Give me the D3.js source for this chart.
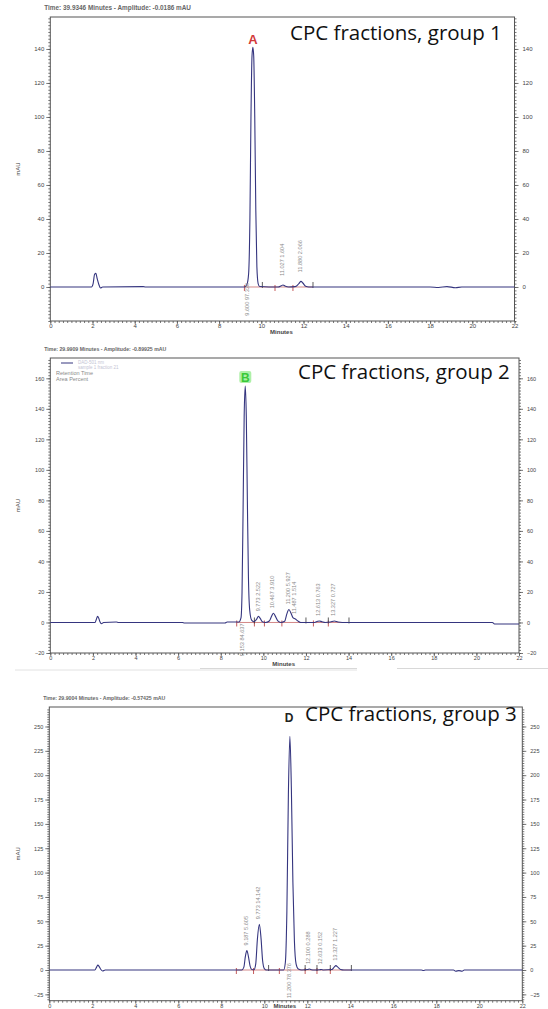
<!DOCTYPE html>
<html><head><meta charset="utf-8">
<script src="https://cdn.jsdelivr.net/npm/d3@7/dist/d3.min.js"></script>
<style>body{margin:0;background:#fff}svg{display:block}</style>
</head><body>
<svg id="c" width="548" height="1009"></svg>
<script>
// ---------- shared ----------
const xTicks = [0,2,4,6,8,10,12,14,16,18,20,22];

// ---------- panel 1 ----------
const p1Header = "Time:  39.9346 Minutes  -  Amplitude:  -0.0186 mAU";
const p1Title = "CPC fractions, group 1";
const p1Letter = "A";
const p1YTicks = [0,20,40,60,80,100,120,140];
const p1Trace = [[0,0],[1.95,0],[2.03,2],[2.1,7.5],[2.16,8],[2.22,5],[2.3,1.5],[2.38,-0.6],[2.48,0],[4.4,0.2],[4.5,0],
 [9.2,0],[9.32,1.5],[9.4,8],[9.46,40],[9.51,100],[9.56,136],[9.6,141],[9.64,136],[9.69,100],[9.74,45],[9.79,12],[9.85,2],[9.92,0.3],
 [10.8,0],[10.95,0.8],[11.03,1.2],[11.12,0.6],[11.3,0],[11.6,0.2],[11.78,2],[11.88,3.3],[11.98,2.2],[12.1,0.4],[12.25,0],
 [18,0],[18.4,-0.3],[18.8,0.2],[19.2,-0.4],[19.5,0],[22,0]];
const p1MainRT = "9.600", p1MainArea = "97.330", p1MainTime = 9.6;
const p1PeakRT = [11.027, 11.880];
const p1PeakArea = ["1.604", "2.066"];
const p1PeakTop = [1.2, 3.3];
const p1RedMarks = [9.2, 10.65, 11.5];
const p1EventMarks = [10.05, 12.45];

// ---------- panel 2 ----------
const p2Header = "Time:  29.9909 Minutes  -  Amplitude:  -0.89925 mAU";
const p2Title = "CPC fractions, group 2";
const p2Letter = "B";
const p2Legend = ["DAD-501 nm", "sample 1 fraction 21", "Retention Time", "Area Percent"];
const p2YTicks = [-20,0,20,40,60,80,100,120,140,160];
const p2Trace = [[0,0],[2.1,0],[2.16,2],[2.22,4],[2.27,3],[2.33,0.5],[2.4,-0.8],[2.5,0],[3.1,0.3],[3.2,0],[6.2,0],[6.3,-0.3],[8.2,-0.3],[8.3,0.3],
 [8.85,0.3],[8.95,3],[9.0,20],[9.05,75],[9.1,135],[9.15,155],[9.2,135],[9.25,80],[9.3,30],[9.36,8],[9.45,1.5],[9.55,0.5],
 [9.68,2],[9.77,4],[9.86,2.5],[9.95,0.5],[10.1,0],[10.28,1],[10.4,4.5],[10.47,6],[10.55,4.5],[10.68,1],[10.82,0],
 [11.0,0.8],[11.1,5.5],[11.2,8.5],[11.3,6],[11.4,3],[11.5,2.3],[11.6,1.2],[11.75,0],[12.4,0],[12.55,0.8],[12.62,1],[12.75,0.5],[12.9,0],
 [13.15,0.3],[13.33,1],[13.5,0.3],[13.7,0],[20.75,0],[20.85,-1],[22,-1]];
const p2MainRT = "9.153", p2MainArea = "84.637", p2MainTime = 9.153;
const p2PeakRT = [9.773, 10.467, 11.200, 11.487, 12.613, 13.327];
const p2PeakArea = ["2.522", "3.910", "5.927", "1.514", "0.763", "0.727"];
const p2PeakTop = [4, 6, 8.5, 2.3, 1, 1];
const p2RedMarks = [8.75, 9.58, 10.05, 10.87, 12.35, 13.05];
const p2EventMarks = [9.58, 12.0, 13.05, 14.02];

// ---------- panel 3 ----------
const p3Header = "Time:  29.9004 Minutes  -  Amplitude:  -0.57425 mAU";
const p3Title = "CPC fractions, group 3";
const p3Letter = "D";
const p3YTicks = [-25,0,25,50,75,100,125,150,175,200,225,250];
const p3Trace = [[0,0],[2.12,0],[2.2,3],[2.26,5],[2.32,3.5],[2.4,0.5],[2.48,-1],[2.6,0],[8.95,0],[9.05,3],[9.12,14],[9.19,20],[9.26,14],[9.34,4],[9.42,0.5],
 [9.52,0.3],[9.6,6],[9.68,32],[9.77,47],[9.85,32],[9.92,10],[10.0,1.5],[10.1,0],[10.9,0],[10.98,8],[11.05,60],[11.12,180],[11.19,240],[11.26,185],
 [11.33,90],[11.4,30],[11.48,6],[11.58,1],[11.75,0],[12.02,0.5],[12.1,1],[12.2,0.3],[12.3,0],[12.58,0.3],[12.65,0.5],[12.75,0],
 [13.15,0.5],[13.25,3],[13.33,4.5],[13.42,3],[13.55,0.5],[13.7,0],[17.3,0],[17.4,-0.5],[17.5,0],[18.8,0],[18.9,-1.2],[19.05,-0.6],[19.2,-1.2],[19.3,0],[22,0]];
const p3MainRT = "11.200", p3MainArea = "78.376", p3MainTime = 11.2;
const p3PeakRT = [9.187, 9.773, 12.100, 12.633, 13.327];
const p3PeakArea = ["5.605", "14.142", "0.288", "0.152", "1.227"];
const p3PeakTop = [20, 47, 1, 0.5, 4.5];
const p3RedMarks = [8.7, 9.5, 10.7, 11.9, 12.45, 13.07];
const p3EventMarks = [10.2, 11.9, 12.45, 13.07, 14.05];

// ---------- drawing ----------
const svg = d3.select("#c");
const TRACE = "#35357f", FRAME = "#555", LBL = "#444";
const labelFont = "'Liberation Sans Narrow','Liberation Sans',Arial,sans-serif";

function panel(o) {
  const g = svg.append("g");
  const x = d3.scaleLinear().domain([0, 22]).range([o.left, o.right]);
  const y = d3.scaleLinear().domain(o.yDomain).range([o.bottom, o.top]);

  // header
  g.append("text").attr("x", o.left - 6).attr("y", o.top - 7)
    .attr("font-family", "Arial, 'Liberation Sans', sans-serif").attr("font-size", o.headerSize)
    .attr("font-weight", "bold").attr("fill", "#666").text(o.header);

  // axes
  function styleAxis(sel) {
    sel.select(".domain").remove();
    sel.selectAll(".tick line").attr("stroke", FRAME).attr("stroke-width", 0.8);
    sel.selectAll("text").attr("font-family", "Arial, 'Liberation Sans', sans-serif")
      .attr("font-size", o.tickSize).attr("fill", LBL);
  }
  const yMinor = d3.range(Math.ceil(o.yDomain[0] / o.yMinor) * o.yMinor, o.yDomain[1], o.yMinor);
  const xMinor = d3.range(0, 22.001, 0.2);
  g.append("g").attr("transform", `translate(${o.left},0)`)
    .call(d3.axisLeft(y).tickValues(yMinor).tickSize(2).tickFormat("")).call(styleAxis);
  g.append("g").attr("transform", `translate(${o.right},0)`)
    .call(d3.axisRight(y).tickValues(yMinor).tickSize(2).tickFormat("")).call(styleAxis);
  g.append("g").attr("transform", `translate(0,${o.bottom})`)
    .call(d3.axisBottom(x).tickValues(xMinor).tickSize(2).tickFormat("")).call(styleAxis);
  g.append("g").attr("transform", `translate(${o.left},0)`)
    .call(d3.axisLeft(y).tickValues(o.yTicks).tickSize(4).tickPadding(2)).call(styleAxis);
  g.append("g").attr("transform", `translate(${o.right},0)`)
    .call(d3.axisRight(y).tickValues(o.yTicks).tickSize(4).tickPadding(4)).call(styleAxis);
  g.append("g").attr("transform", `translate(0,${o.bottom})`)
    .call(d3.axisBottom(x).tickValues(xTicks).tickSize(3).tickPadding(0)).call(styleAxis);

  // axis titles
  g.append("text").attr("x", (o.left + o.right) / 2 - 1).attr("y", Math.min(o.bottom + 13, 1008))
    .attr("text-anchor", "middle").attr("font-family", "Arial, sans-serif").attr("font-size", 6)
    .attr("font-weight", "bold").attr("fill", LBL).text("Minutes");
  g.append("text").attr("transform", `translate(20,${(o.top + o.bottom) / 2}) rotate(-90)`)
    .attr("text-anchor", "middle").attr("font-family", "Arial, sans-serif").attr("font-size", 6)
    .attr("fill", LBL).text("mAU");

  // frame
  g.append("rect").attr("x", o.left).attr("y", o.top).attr("width", o.right - o.left)
    .attr("height", o.bottom - o.top).attr("fill", "none").attr("stroke", FRAME).attr("stroke-width", 1);

  // integration baseline + marks
  const y0 = y(0);
  g.append("line").attr("x1", x(d3.min(o.red))).attr("x2", x(d3.max(o.events.concat(o.red))))
    .attr("y1", y0).attr("y2", y0).attr("stroke", "#c86a6a").attr("stroke-width", 0.8);
  g.selectAll(".rm").data(o.red).join("line")
    .attr("x1", d => x(d)).attr("x2", d => x(d)).attr("y1", y0 - 2).attr("y2", y0 + 4)
    .attr("stroke", "#c04848").attr("stroke-width", 0.9);
  g.selectAll(".em").data(o.events).join("line")
    .attr("x1", d => x(d)).attr("x2", d => x(d)).attr("y1", y0 - 5).attr("y2", y0 + 1)
    .attr("stroke", "#333").attr("stroke-width", 0.8);

  // trace
  const line = d3.line().x(d => x(d[0])).y(d => y(d[1])).curve(d3.curveMonotoneX);
  g.append("path").datum(o.trace).attr("d", line).attr("fill", "none")
    .attr("stroke", TRACE).attr("stroke-width", 1.1);

  // peak labels
  g.selectAll(".pl").data(o.peakRT).join("text")
    .attr("transform", (d, i) => `translate(${x(d) + 1},${y(o.peakTop[i]) - o.labelOff}) rotate(-90)`)
    .attr("font-family", labelFont).attr("font-size", 5.6).attr("fill", "#8a8a8a")
    .text((d, i) => d.toFixed(3) + "  " + o.peakArea[i]);
  g.append("text")
    .attr("transform", `translate(${x(o.mainTime) + o.mainDx},${y0 - o.mainUp}) rotate(-90)`)
    .attr("text-anchor", "end").attr("font-family", labelFont).attr("font-size", 5.6).attr("fill", "#8a8a8a")
    .text(o.mainRT + "  " + o.mainArea);

  // title
  g.append("text").attr("x", o.titleX).attr("y", o.titleY)
    .attr("font-family", "'Open Sans', 'Noto Sans', sans-serif").attr("font-size", 20.5)
    .attr("fill", "#111").text(o.title);
  return {g, x, y};
}

// panel 1
const P1 = panel({left: 50.3, right: 514.5, top: 17, bottom: 321, yDomain: [-20, 158.8], yTicks: p1YTicks, yMinor: 2,
  header: p1Header, headerSize: 6.4, tickSize: 6, trace: p1Trace, peakRT: p1PeakRT, peakArea: p1PeakArea, peakTop: p1PeakTop,
  labelOff: 9, mainTime: p1MainTime, mainRT: p1MainRT, mainArea: p1MainArea, mainDx: -4, mainUp: 4,
  red: p1RedMarks, events: p1EventMarks, title: p1Title, titleX: 290, titleY: 40});
P1.g.append("text").attr("x", P1.x(p1MainTime)).attr("y", 44).attr("text-anchor", "middle")
  .attr("font-family", "Arial, sans-serif").attr("font-weight", "bold").attr("font-size", 13)
  .attr("fill", "#d23a3a").text(p1Letter);

// panel 2
const P2 = panel({left: 50.3, right: 519, top: 358, bottom: 653, yDomain: [-20, 173.3], yTicks: p2YTicks, yMinor: 2,
  header: p2Header, headerSize: 5.2, tickSize: 5.5, trace: p2Trace, peakRT: p2PeakRT, peakArea: p2PeakArea, peakTop: p2PeakTop,
  labelOff: 5, mainTime: p2MainTime, mainRT: p2MainRT, mainArea: p2MainArea, mainDx: -1, mainUp: -1,
  red: p2RedMarks, events: p2EventMarks, title: p2Title, titleX: 298, titleY: 379});
P2.g.append("rect").attr("x", P2.x(p2MainTime) - 6).attr("y", 371).attr("width", 12).attr("height", 12)
  .attr("rx", 2).attr("fill", "#aef0a8");
P2.g.append("text").attr("x", P2.x(p2MainTime)).attr("y", 381.5).attr("text-anchor", "middle")
  .attr("font-family", "Arial, sans-serif").attr("font-weight", "bold").attr("font-size", 12)
  .attr("fill", "#38c838").text(p2Letter);
P2.g.append("line").attr("x1", 61).attr("x2", 73).attr("y1", 363).attr("y2", 363).attr("stroke", TRACE).attr("stroke-width", 1);
P2.g.append("text").attr("x", 78).attr("y", 364).attr("font-family", "Arial, sans-serif").attr("font-size", 4.5).attr("fill", "#c4c4d4").text(p2Legend[0]);
P2.g.append("text").attr("x", 78).attr("y", 369).attr("font-family", "Arial, sans-serif").attr("font-size", 4.5).attr("fill", "#c4c4d4").text(p2Legend[1]);
P2.g.append("text").attr("x", 56).attr("y", 374.5).attr("font-family", "Arial, sans-serif").attr("font-size", 5.5).attr("fill", "#8a8a8a").text(p2Legend[2]);
P2.g.append("text").attr("x", 56).attr("y", 380.5).attr("font-family", "Arial, sans-serif").attr("font-size", 5.5).attr("fill", "#8a8a8a").text(p2Legend[3]);

// panel separators
svg.append("line").attr("x1", 200).attr("x2", 357).attr("y1", 668.5).attr("y2", 668.5).attr("stroke", "#d8d8d8");
svg.append("line").attr("x1", 397).attr("x2", 548).attr("y1", 668.5).attr("y2", 668.5).attr("stroke", "#d8d8d8");
svg.append("line").attr("x1", 15).attr("x2", 357).attr("y1", 670).attr("y2", 670).attr("stroke", "#e2e2e2");

// panel 3
const P3 = panel({left: 49.3, right: 522.3, top: 707, bottom: 1000.7, yDomain: [-31.5, 270], yTicks: p3YTicks, yMinor: 2.5,
  header: p3Header, headerSize: 5.2, tickSize: 5.5, trace: p3Trace, peakRT: p3PeakRT, peakArea: p3PeakArea, peakTop: p3PeakTop,
  labelOff: 5, mainTime: p3MainTime, mainRT: p3MainRT, mainArea: p3MainArea, mainDx: 1, mainUp: 7,
  red: p3RedMarks, events: p3EventMarks, title: p3Title, titleX: 305, titleY: 721});
P3.g.append("text").attr("x", P3.x(p3MainTime) - 1).attr("y", 722).attr("text-anchor", "middle")
  .attr("font-family", "Arial, sans-serif").attr("font-weight", "bold").attr("font-size", 12)
  .attr("fill", "#222").text(p3Letter);
</script>
</body></html>
